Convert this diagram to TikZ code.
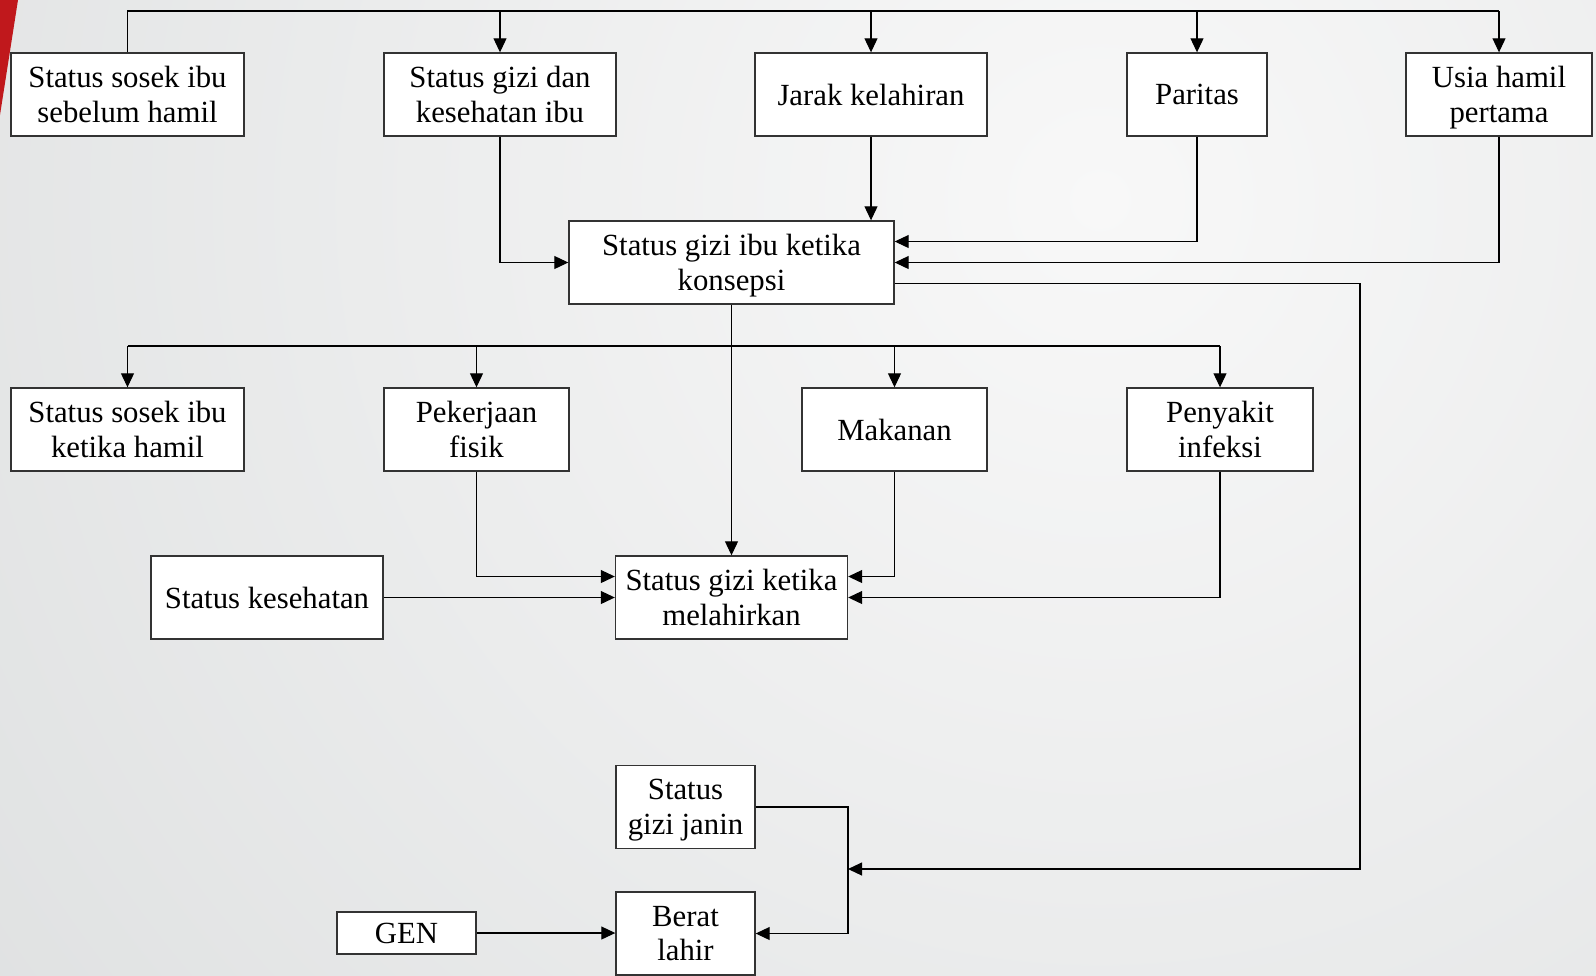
\documentclass[tikz,border=0pt]{standalone}
\usepackage{fontspec}
\setmainfont{Liberation Serif}
\usetikzlibrary{arrows.meta}

\definecolor{slidered}{RGB}{192,24,28}
\definecolor{bgout}{RGB}{195,199,200}
\definecolor{bgin}{RGB}{248,248,248}

\begin{document}
\begin{tikzpicture}[x=2cm, y=-2cm,
    box/.style={draw=black!80, line width=0.8pt, fill=white, align=center,
        minimum height=1.66cm, inner sep=2pt, text depth=0pt,
        font=\fontsize{17.5}{19.6}\selectfont},
    link/.style={draw=black, line width=0.6pt},
    arr/.style={-{Triangle[length=2.8mm,width=2.6mm]}}]

        % Background and slide stripe
        \useasboundingbox (0,0) rectangle (15.96,9.75);
        \begin{scope}
            \clip (0,0) rectangle (15.96,9.75);
            \shade[inner color=bgin, outer color=bgout] (11,2) circle (30);
        \end{scope}
        \fill[slidered] (0,0) -- (0.18,0) -- (0,1.15) -- cycle;

        % Top row
        \node[box, minimum width=4.66cm] (sosekpre) at (1.275,0.945) {Status sosek ibu\\sebelum hamil};
        \node[box, minimum width=4.64cm] (gizikes) at (5.00,0.945) {Status gizi dan\\kesehatan ibu};
        \node[box, minimum width=4.64cm] (jarak) at (8.71,0.945) {Jarak kelahiran};
        \node[box, minimum width=2.80cm] (paritas) at (11.97,0.945) {Paritas};
        \node[box, minimum width=3.72cm] (usia) at (14.99,0.945) {Usia hamil\\pertama};

        % Conception
        \node[box, minimum width=6.50cm] (konsepsi) at (7.315,2.625) {Status gizi ibu ketika\\konsepsi};

        % Second row
        \node[box, minimum width=4.66cm] (sosekhamil) at (1.275,4.295) {Status sosek ibu\\ketika hamil};
        \node[box, minimum width=3.70cm] (pekerjaan) at (4.765,4.295) {Pekerjaan\\fisik};
        \node[box, minimum width=3.70cm] (makanan) at (8.945,4.295) {Makanan};
        \node[box, minimum width=3.72cm] (infeksi) at (12.20,4.295) {Penyakit\\infeksi};

        % Delivery
        \node[box, minimum width=4.64cm] (kesehatan) at (2.67,5.975) {Status kesehatan};
        \node[box, minimum width=4.64cm] (melahirkan) at (7.315,5.975) {Status gizi ketika\\melahirkan};

        % Birth weight
        \node[box, minimum width=2.78cm] (janin) at (6.855,8.07) {Status\\gizi janin};
        \node[box, minimum width=2.78cm] (berat) at (6.855,9.335) {Berat\\lahir};
        \node[box, minimum width=2.78cm, minimum height=0.84cm] (gen) at (4.065,9.33) {GEN};

        % Top bus
        \coordinate (bus1) at (1.275,0.11);
        \draw[link] (sosekpre.north) |- (usia.north |- bus1);
        \foreach \n in {gizikes,jarak,paritas,usia}
            \draw[link,arr] (\n.north |- bus1) -- (\n.north);

        % Into conception
        \draw[link,arr] (gizikes.south) |- (konsepsi.west);
        \draw[link,arr] (jarak.south) -- (jarak.south |- konsepsi.north);
        \draw[link,arr] (paritas.south) |- ([yshift=0.42cm]konsepsi.east);
        \draw[link,arr] (usia.south) |- (konsepsi.east);

        % Conception to birth weight
        \coordinate (rail) at (13.60,8.69);
        \coordinate (join) at (8.48,8.69);
        \draw[link,arr] ([yshift=-0.42cm]konsepsi.east) -| (rail) -- (join);
        \draw[link,arr] (janin.east) -| (join) |- (berat.east);

        % Second bus
        \coordinate (bus2) at (7.315,3.46);
        \draw[link,arr] (konsepsi.south) -- (konsepsi.south |- melahirkan.north);
        \draw[link] (bus2 -| sosekhamil.north) -- (bus2 -| infeksi.north);
        \foreach \n in {sosekhamil,pekerjaan,makanan,infeksi}
            \draw[link,arr] (bus2 -| \n.north) -- (\n.north);

        % Into delivery
        \draw[link,arr] (pekerjaan.south) |- ([yshift=0.42cm]melahirkan.west);
        \draw[link,arr] (kesehatan.east) -- (melahirkan.west);
        \draw[link,arr] (makanan.south) |- ([yshift=0.42cm]melahirkan.east);
        \draw[link,arr] (infeksi.south) |- (melahirkan.east);

        % Genes
        \draw[link,arr] (gen.east) -- (gen.east -| berat.west);

    \end{tikzpicture}
\end{document}
